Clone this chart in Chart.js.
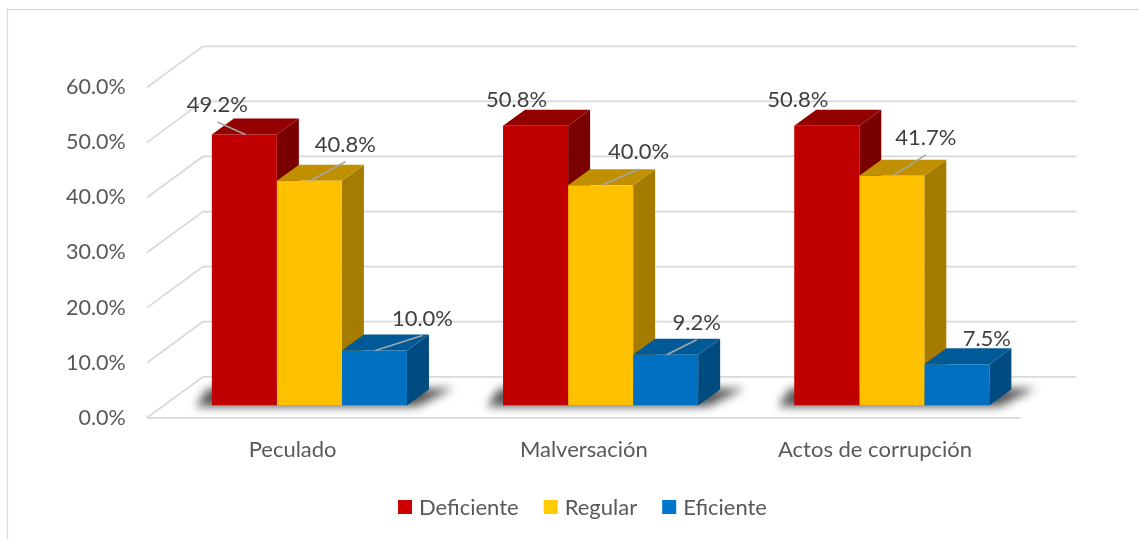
<!DOCTYPE html>
<html>
<head>
<meta charset="utf-8">
<script src="https://cdn.jsdelivr.net/npm/chart.js@4.4.1/dist/chart.umd.min.js"></script>
<style>
  html, body { margin: 0; padding: 0; background: #ffffff; }
  canvas { display: block; }
</style>
</head>
<body>
<canvas id="c" width="1139" height="539"></canvas>
<script>
// ---- data ----
const categories = ['Peculado', 'Malversación', 'Actos de corrupción'];
const seriesNames = ['Deficiente', 'Regular', 'Eficiente'];
const deficiente = [49.2, 50.8, 50.8];
const regular = [40.8, 40.0, 41.7];
const eficiente = [10.0, 9.2, 7.5];
const yTicks = [0, 10, 20, 30, 40, 50, 60];

// ---- style ----
const FONT = 'Lato, "Open Sans", sans-serif';
const colors = {
  front: ['#C00000', '#FFC000', '#0070C0'],
  top:   ['#920000', '#C09000', '#005A98'],
  side:  ['#7A0000', '#A67C00', '#004B80'],
  legend:['#CC0000', '#FFCC00', '#0077CF']
};
const DEPTH = { x: 56, y: -41 };   // full floor depth
const FRONT_F = 0.30;              // bar plane position inside depth
const BAR_D = { x: 22, y: -16 };   // bar depth
// data-label placement relative to bar front-top centre, per series/category
const labelPlace = [
  [{dx:-27, dy:-29.5, lead:true}, {dx:-19, dy:-26, lead:false}, {dx:-29, dy:-26, lead:false}],
  [{dx:36, dy:-36, lead:true},    {dx:38, dy:-33, lead:true},   {dx:34, dy:-38, lead:true}],
  [{dx:48, dy:-32, lead:true},    {dx:31, dy:-32, lead:true},   {dx:30, dy:-25, lead:false}]
];

function poly(ctx, pts, fill) {
  ctx.beginPath();
  ctx.moveTo(pts[0][0], pts[0][1]);
  for (let i = 1; i < pts.length; i++) ctx.lineTo(pts[i][0], pts[i][1]);
  ctx.closePath();
  ctx.fillStyle = fill;
  ctx.fill();
}

const threeD = {
  id: 'threeD',
  beforeDatasetsDraw(chart) {
    const ctx = chart.ctx;
    const ys = chart.scales.y;
    const ca = chart.chartArea;
    const fx = -FRONT_F * DEPTH.x, fy = -FRONT_F * DEPTH.y;
    const bx = (1 - FRONT_F) * DEPTH.x, by = (1 - FRONT_F) * DEPTH.y;
    ctx.save();
    // outer frame
    ctx.strokeStyle = '#D9D9D9';
    ctx.lineWidth = 1.3;
    ctx.strokeRect(7.5, 9.5, 1200, 700);
    // walls gridlines
    ctx.strokeStyle = '#D9D9D9';
    ctx.lineWidth = 1.7;
    yTicks.forEach(v => {
      const y = ys.getPixelForValue(v);
      ctx.beginPath();
      ctx.moveTo(ca.left + fx, y + fy);
      ctx.lineTo(ca.left + bx, y + by);
      ctx.lineTo(ca.right + bx, y + by);
      ctx.stroke();
    });
    // floor front edge
    const y0 = ys.getPixelForValue(0);
    ctx.beginPath();
    ctx.moveTo(ca.left + fx, y0 + fy);
    ctx.lineTo(ca.right + fx, y0 + fy);
    ctx.stroke();

    // shadows per category
    const metas = chart.data.datasets.map((d, i) => chart.getDatasetMeta(i));
    categories.forEach((c, ci) => {
      const first = metas[0].data[ci].getProps(['x', 'width', 'base'], true);
      const last = metas[metas.length - 1].data[ci].getProps(['x', 'width', 'base'], true);
      const x0 = first.x - first.width / 2, x1 = last.x + last.width / 2;
      const b = first.base;
      ctx.save();
      ctx.filter = 'blur(5px)';
      poly(ctx, [[x0 - 16, b + 1], [x1 + 10, b + 1], [x1 + BAR_D.x + 24, b + BAR_D.y - 1], [x0 - 4, b + BAR_D.y - 1]], 'rgba(30,30,30,0.75)');
      ctx.restore();
    });

    // top + side faces
    metas.forEach((meta, si) => {
      meta.data.forEach(el => {
        const p = el.getProps(['x', 'y', 'base', 'width'], true);
        const xl = p.x - p.width / 2, xr = p.x + p.width / 2;
        const t = p.y, b = p.base;
        poly(ctx, [[xr, t], [xr + BAR_D.x, t + BAR_D.y], [xr + BAR_D.x, b + BAR_D.y], [xr, b]], colors.side[si]);
        poly(ctx, [[xl, t], [xr, t], [xr + BAR_D.x, t + BAR_D.y], [xl + BAR_D.x, t + BAR_D.y]], colors.top[si]);
      });
    });
    ctx.restore();
  },
  afterDatasetsDraw(chart) {
    const ctx = chart.ctx;
    ctx.save();
    ctx.font = '22px ' + FONT;
    ctx.textAlign = 'center';
    ctx.textBaseline = 'middle';
    chart.data.datasets.forEach((ds, si) => {
      const meta = chart.getDatasetMeta(si);
      meta.data.forEach((el, ci) => {
        const p = el.getProps(['x', 'y'], true);
        const pl = labelPlace[si][ci];
        const lx = p.x + pl.dx, ly = p.y + pl.dy;
        if (pl.lead) {
          ctx.strokeStyle = '#A6A6A6';
          ctx.lineWidth = 1.6;
          ctx.beginPath();
          ctx.moveTo(lx, ly + 17);
          ctx.lineTo(p.x + 1, p.y);
          ctx.stroke();
        }
        ctx.fillStyle = '#404040';
        ctx.fillText(ds.data[ci].toFixed(1) + '%', lx, ly);
      });
    });
    ctx.restore();
  },
  afterDraw(chart) {
    // legend
    const ctx = chart.ctx;
    ctx.save();
    ctx.font = '22px ' + FONT;
    ctx.textBaseline = 'middle';
    const box = 14, gapBT = 7, gapItems = 25;
    const widths = seriesNames.map(n => ctx.measureText(n).width);
    const total = widths.reduce((a, w) => a + box + gapBT + w, 0) + gapItems * (seriesNames.length - 1);
    let x = 582.5 - total / 2;
    const cy = 507;
    seriesNames.forEach((n, i) => {
      ctx.fillStyle = colors.legend[i];
      ctx.fillRect(x, cy - 7, box, box);
      ctx.fillStyle = '#595959';
      ctx.fillText(n, x + box + gapBT, cy + 1);
      x += box + gapBT + widths[i] + gapItems;
    });
    ctx.restore();
  }
};

const series = [deficiente, regular, eficiente];
new Chart(document.getElementById('c'), {
  type: 'bar',
  data: {
    labels: categories,
    datasets: seriesNames.map((n, i) => ({
      label: n,
      data: series[i],
      backgroundColor: colors.front[i],
      borderWidth: 0,
      categoryPercentage: 0.67,
      barPercentage: 1.0
    }))
  },
  options: {
    responsive: false,
    animation: false,
    layout: { padding: { top: 75, right: 101.6, left: 0, bottom: 0 } },
    plugins: { legend: { display: false }, tooltip: { enabled: false } },
    scales: {
      x: {
        offset: true,
        grid: { display: false, drawTicks: false },
        border: { display: false },
        ticks: { padding: 31, labelOffset: -16.8, color: '#595959', font: { family: FONT, size: 22 } },
        afterFit(s) { s.height = 133.5; }
      },
      y: {
        min: 0, max: 60,
        grid: { display: false, drawTicks: false },
        border: { display: false },
        ticks: {
          stepSize: 10, padding: 38, labelOffset: 12.3, color: '#595959',
          font: { family: FONT, size: 21.5 },
          callback: v => v.toFixed(1) + '%'
        },
        afterFit(s) { s.width = 163.8; }
      }
    }
  },
  plugins: [threeD]
});
</script>
</body>
</html>
